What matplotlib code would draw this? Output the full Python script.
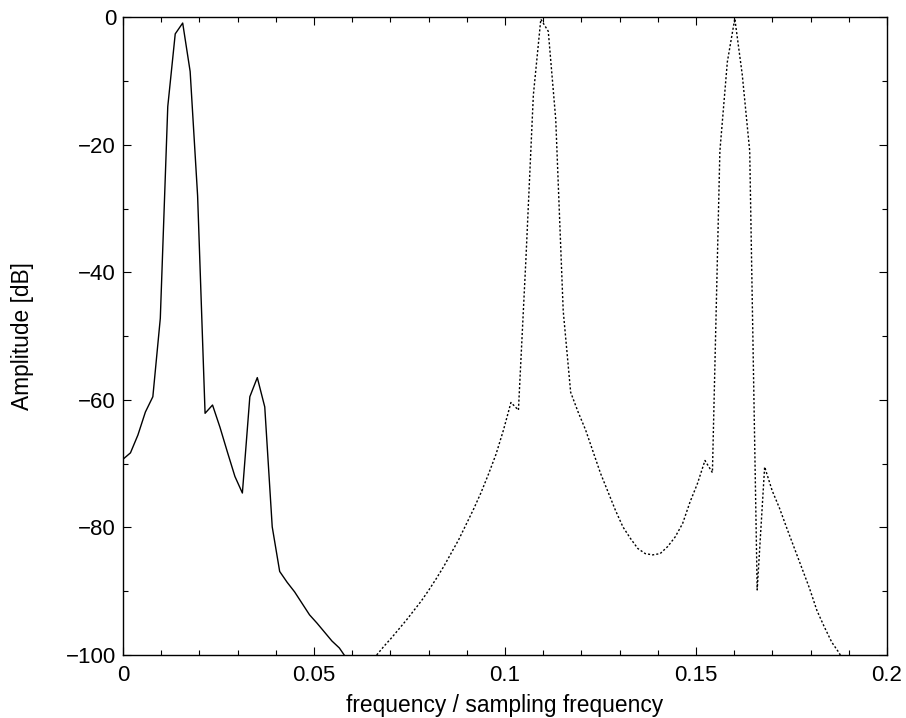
import numpy as np
import matplotlib
matplotlib.use("Agg")
import matplotlib.pyplot as plt
from matplotlib.ticker import MultipleLocator, FuncFormatter

# frequency bins are k / 512 (normalised to the sampling frequency)
BIN = 1.0 / 512

# solid curve: bins 0..31
solid_start = 0
solid_db = [
    -69.3, -68.3, -65.5, -61.9, -59.5, -47.2, -14.0, -2.6, -0.9, -8.5,
    -28.0, -62.1, -60.8, -64.3, -68.2, -72.0, -74.6, -59.5, -56.5, -61.1,
    -79.9, -86.9, -88.6, -90.1, -91.9, -93.7, -95.0, -96.4, -97.8, -98.9,
    -100.6, -102.0,
]

# dotted curve: bins 34..97
dotted_start = 34
dotted_db = [
    -100.0, -98.6, -97.3, -95.9, -94.5, -93.0, -91.5, -89.8, -88.0, -86.1,
    -84.0, -81.9, -79.5, -77.1, -74.5, -71.6, -68.5, -64.7, -60.4, -61.6,
    -38.0, -12.2, -0.3, -2.2, -16.0, -46.0, -58.8, -61.9, -64.7, -68.1,
    -71.5, -74.4, -77.3, -79.9, -81.7, -83.3, -84.1, -84.3, -84.1, -83.0,
    -81.5, -79.4, -76.0, -73.1, -69.5, -71.4, -21.0, -7.0, -0.2, -9.0,
    -21.0, -89.8, -70.5, -74.2, -77.0, -80.2, -83.3, -86.4, -89.5, -93.0,
    -95.6, -98.0, -99.7, -102.0,
]

x_ticks = [0, 0.05, 0.1, 0.15, 0.2]
y_ticks = [0, -20, -40, -60, -80, -100]

solid_f = (solid_start + np.arange(len(solid_db))) * BIN
dotted_f = (dotted_start + np.arange(len(dotted_db))) * BIN

plt.rcParams["font.family"] = ["Liberation Sans", "DejaVu Sans"]

fig = plt.figure(figsize=(9.06, 7.18), dpi=100)
ax = fig.add_axes([123 / 906, 1 - 655 / 718, 764 / 906, 637.7 / 718])

ax.plot(solid_f, solid_db, color="black", lw=1.0)
ax.plot(dotted_f, dotted_db, color="black", lw=1.0, linestyle=(0, (1.5, 1.5)))

ax.set_xlim(0, 0.2)
ax.set_ylim(-100, 0)
ax.set_xticks(x_ticks)
ax.set_yticks(y_ticks)
ax.xaxis.set_minor_locator(MultipleLocator(0.01))
ax.yaxis.set_minor_locator(MultipleLocator(10))

fmt = FuncFormatter(lambda v, p: ("%g" % round(v, 4)).replace("-", "\u2212"))
ax.xaxis.set_major_formatter(fmt)
ax.yaxis.set_major_formatter(fmt)

ax.tick_params(which="both", direction="in", top=True, right=True,
               width=0.8, labelsize=16, color="black")
ax.tick_params(which="major", length=6)
ax.tick_params(which="minor", length=3.5)
ax.tick_params(axis="x", pad=7.5)
ax.tick_params(axis="y", pad=5)
for s in ax.spines.values():
    s.set_linewidth(1.0)

ax.set_xlabel("frequency / sampling frequency", fontsize=16.4)
ax.set_ylabel("Amplitude [dB]", fontsize=16.4)
ax.xaxis.set_label_coords(0.5, -0.061)
ax.yaxis.set_label_coords(-0.117, 0.5)

fig.savefig("out.png", dpi=100)
